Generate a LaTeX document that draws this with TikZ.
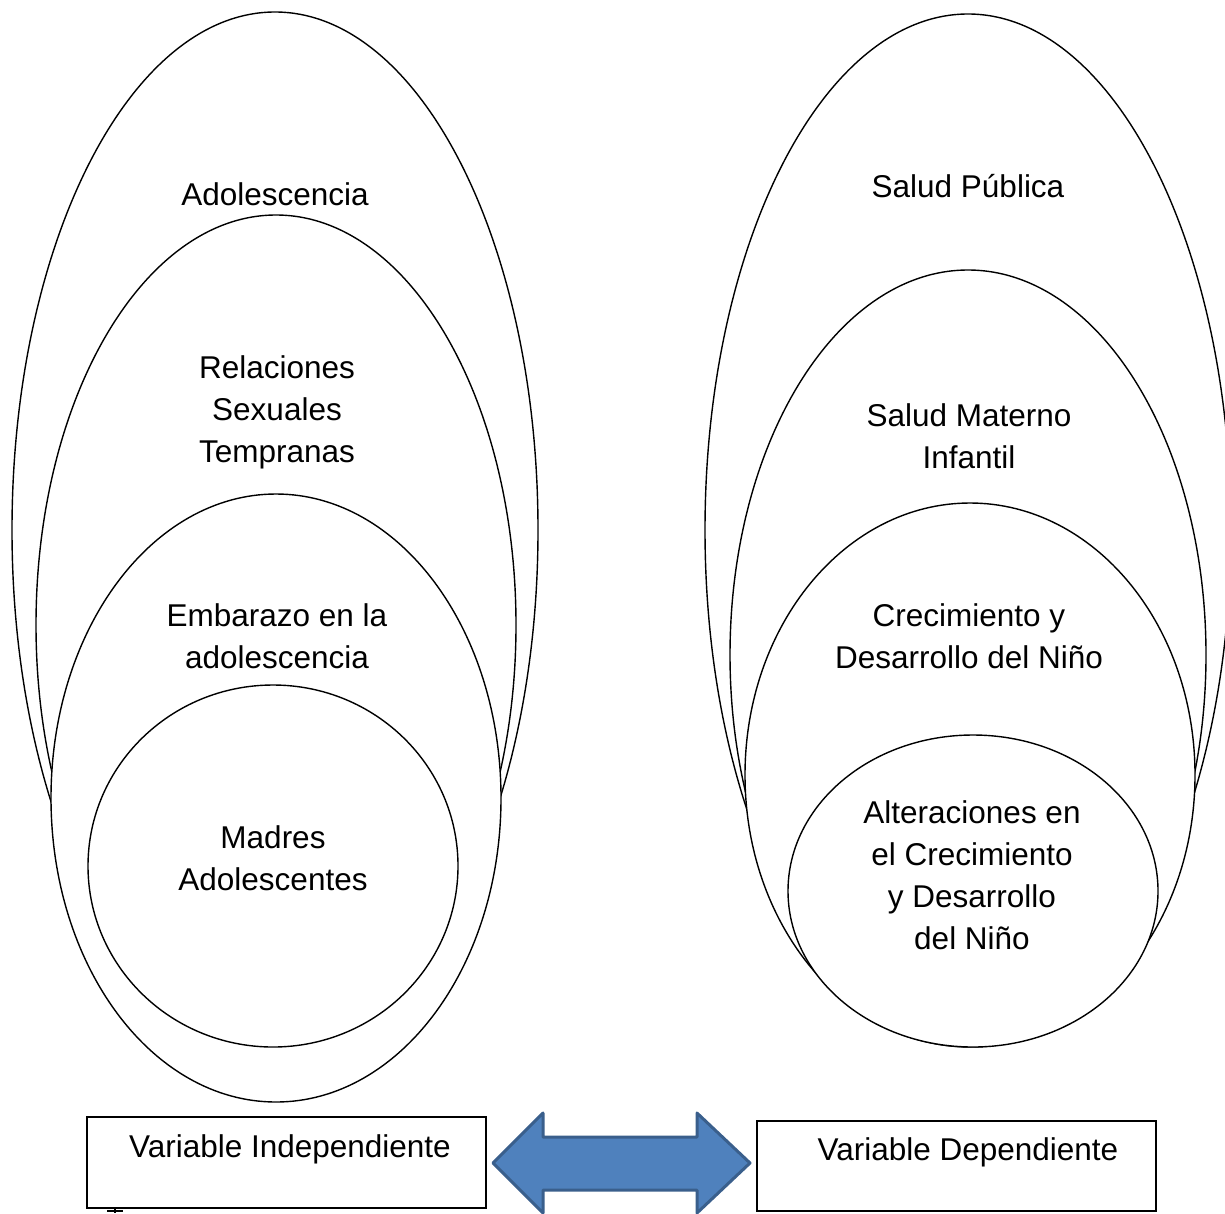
\documentclass[tikz,border=0pt]{standalone}
\usepackage{fontspec}
\setmainfont{Liberation Sans}
\definecolor{arrowfill}{HTML}{4F81BD}
\definecolor{arrowline}{HTML}{3A5F8C}
\begin{document}
\begin{tikzpicture}[x=1pt,y=-1pt,
  oval/.style={draw=black,fill=white,line width=1.4pt},
  lbl/.style={inner sep=0pt,align=center,font=\fontsize{31.5}{42}\selectfont},
  varbox/.style={draw=black,line width=1.5pt,inner sep=0pt,fill=white}]
\useasboundingbox (0,0) rectangle (1225,1213);
% ---- left group
\draw[oval] (275,530) ellipse [x radius=263, y radius=518];
\draw[oval] (276,625) ellipse [x radius=240, y radius=410];
\draw[oval] (276,798) ellipse [x radius=225, y radius=304];
\draw[oval] (273,866) ellipse [x radius=185, y radius=181];
\node[lbl] (adol) at (275,194) {Adolescencia};
\node[lbl] (rel) at (277,412) {Relaciones\\Sexuales\\Tempranas};
\node[lbl] (emb) at (277,636) {Embarazo en la\\adolescencia};
\node[lbl] (mad) at (273,858) {Madres\\Adolescentes};
% ---- right group
\draw[oval] (968,530) ellipse [x radius=263, y radius=516];
\draw[oval] (968,655) ellipse [x radius=238, y radius=385];
\draw[oval] (970,775) ellipse [x radius=225, y radius=272];
\draw[oval] (973,891) ellipse [x radius=185, y radius=156];
\node[lbl] (sp) at (968,186) {Salud Pública};
\node[lbl] (smi) at (969,436) {Salud Materno\\Infantil};
\node[lbl] (cdn) at (969,636) {Crecimiento y\\Desarrollo del Niño};
\node[lbl] (alt) at (972,875) {Alteraciones en\\el Crecimiento\\y Desarrollo\\del Niño};
% ---- variable boxes
\node[varbox,minimum width=399pt,minimum height=91pt] (vi) at (286.5,1162.5) {};
\node[lbl] (vit) at (290,1149) {Variable Independiente};
\node[varbox,minimum width=399pt,minimum height=90pt] (vd) at (956.5,1166) {};
\node[lbl] (vdt) at (968,1152) {Variable Dependiente};
% ---- double arrow
\draw[fill=arrowfill,draw=arrowline,line width=3pt,line join=round]
  (493,1163) -- (543,1113) -- (543,1137) -- (697,1137) -- (697,1113) -- (750,1163)
  -- (697,1213) -- (697,1190) -- (543,1190) -- (543,1213) -- cycle;
% ---- small mark under the left box
\draw[line width=1.5pt] (107,1211) -- (123,1211);
\draw[line width=1.2pt] (115,1208) -- (115,1213);
\end{tikzpicture}
\end{document}
